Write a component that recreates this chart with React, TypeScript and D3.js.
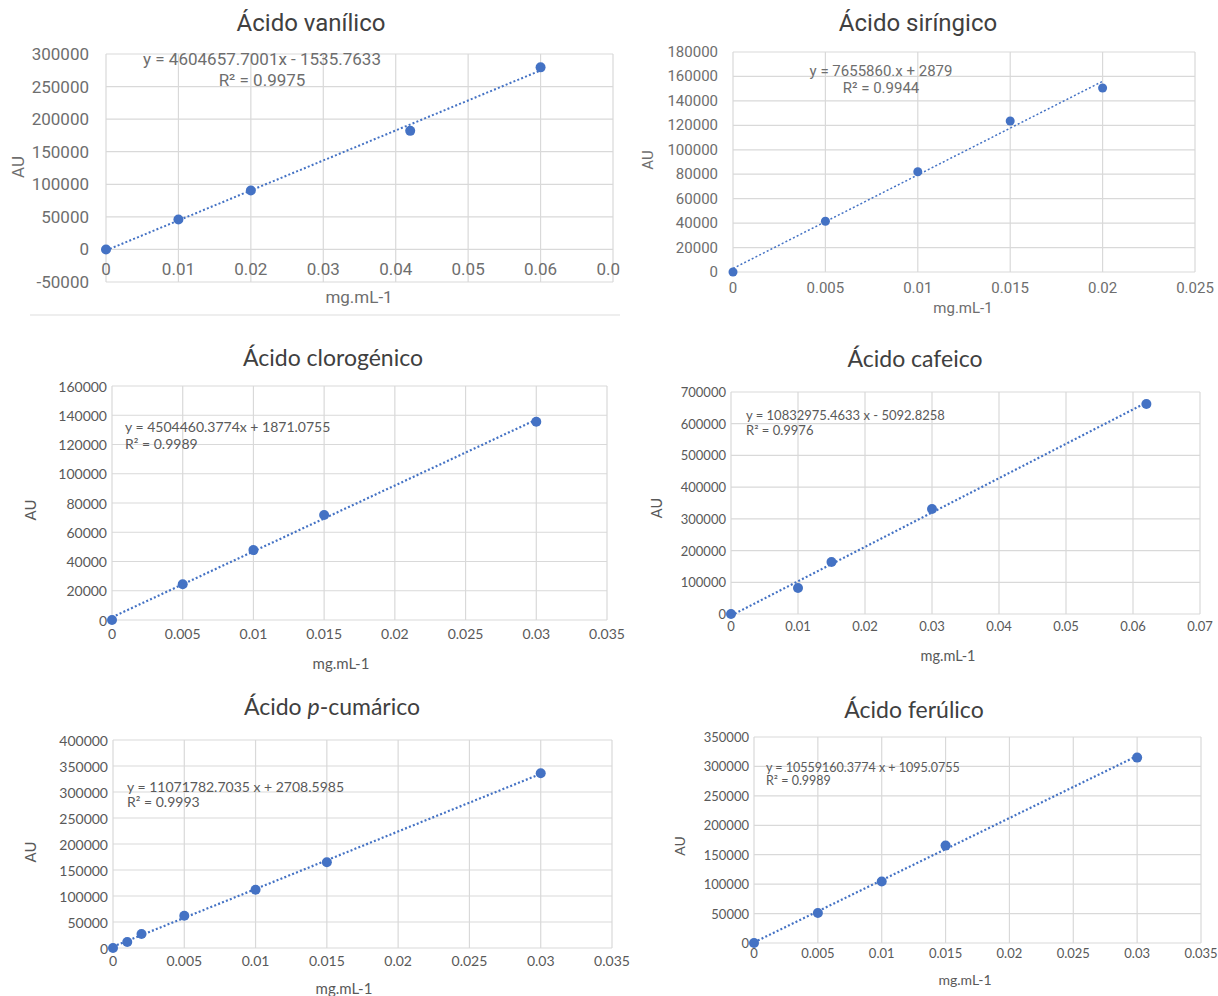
import React from "react";
import * as d3 from "d3";

// measured points (mg.mL-1 vs AU) and the fitted line [slope, intercept]
const vanilicoConc = [0, 0.01, 0.02, 0.042, 0.06];
const vanilicoAU = [0, 46000, 90500, 182000, 279500];
const vanilicoFit = [4604657.7001, -1535.7633];
const vanilicoXTicks = [0, 0.01, 0.02, 0.03, 0.04, 0.05, 0.06, 0.07];
const vanilicoYTicks = [-50000, 0, 50000, 100000, 150000, 200000, 250000, 300000];

const siringicoConc = [0, 0.005, 0.01, 0.015, 0.02];
const siringicoAU = [0, 41500, 82000, 123500, 150500];
const siringicoFit = [7655860, 2879];
const siringicoXTicks = [0, 0.005, 0.01, 0.015, 0.02, 0.025];
const siringicoYTicks = [0, 20000, 40000, 60000, 80000, 100000, 120000, 140000, 160000, 180000];

const clorogenicoConc = [0, 0.005, 0.01, 0.015, 0.03];
const clorogenicoAU = [0, 24500, 47800, 71800, 135500];
const clorogenicoFit = [4504460.3774, 1871.0755];
const clorogenicoXTicks = [0, 0.005, 0.01, 0.015, 0.02, 0.025, 0.03, 0.035];
const clorogenicoYTicks = [0, 20000, 40000, 60000, 80000, 100000, 120000, 140000, 160000];

const cafeicoConc = [0, 0.01, 0.015, 0.03, 0.062];
const cafeicoAU = [0, 82000, 164000, 331000, 662000];
const cafeicoFit = [10832975.4633, -5092.8258];
const cafeicoXTicks = [0, 0.01, 0.02, 0.03, 0.04, 0.05, 0.06, 0.07];
const cafeicoYTicks = [0, 100000, 200000, 300000, 400000, 500000, 600000, 700000];

const cumaricoConc = [0, 0.001, 0.002, 0.005, 0.01, 0.015, 0.03];
const cumaricoAU = [0, 11500, 27000, 62000, 112000, 165000, 336000];
const cumaricoFit = [11071782.7035, 2708.5985];
const cumaricoXTicks = [0, 0.005, 0.01, 0.015, 0.02, 0.025, 0.03, 0.035];
const cumaricoYTicks = [0, 50000, 100000, 150000, 200000, 250000, 300000, 350000, 400000];

const ferulicoConc = [0, 0.005, 0.01, 0.015, 0.03];
const ferulicoAU = [0, 51000, 104500, 165500, 315000];
const ferulicoFit = [10559160.3774, 1095.0755];
const ferulicoXTicks = [0, 0.005, 0.01, 0.015, 0.02, 0.025, 0.03, 0.035];
const ferulicoYTicks = [0, 50000, 100000, 150000, 200000, 250000, 300000, 350000];

const BLUE = "#4472C4";
const GRID = "#d9d9d9";
const TITLE = "#404040";

const panels = [
  {
    id: "van", title: ["Ácido vanílico"], conc: vanilicoConc, au: vanilicoAU, fit: vanilicoFit,
    xTicks: vanilicoXTicks, yTicks: vanilicoYTicks, eq: ["y = 4604657.7001x - 1535.7633", "R² = 0.9975"],
    box: [106, 54, 613, 282], clip: 620, font: "Roboto", tick: 17, gap: 17, titleSize: 24, color: "#6e6e6e",
    titlePos: [311, 23], xTickY: "zero", xLabelPos: [359, 297], auPos: [18, 167],
    eqPos: [262, 59, 80], eqAnchor: "middle", eqSize: 17, axisSize: 17, r: 5, lw: 2,
  },
  {
    id: "sir", title: ["Ácido siríngico"], conc: siringicoConc, au: siringicoAU, fit: siringicoFit,
    xTicks: siringicoXTicks, yTicks: siringicoYTicks, eq: ["y = 7655860.x + 2879", "R² = 0.9944"],
    box: [733, 52, 1195, 272], clip: null, font: "Roboto", tick: 15, gap: 15, titleSize: 24, color: "#6e6e6e",
    titlePos: [918, 23], xTickY: 288, xLabelPos: [963, 308], auPos: [648, 160],
    eqPos: [881, 71, 88], eqAnchor: "middle", eqSize: 15, axisSize: 15, r: 4.5, lw: 1.5,
  },
  {
    id: "clo", title: ["Ácido clorogénico"], conc: clorogenicoConc, au: clorogenicoAU, fit: clorogenicoFit,
    xTicks: clorogenicoXTicks, yTicks: clorogenicoYTicks, eq: ["y = 4504460.3774x + 1871.0755", "R² = 0.9989"],
    box: [112, 386, 607, 620], clip: null, font: "Lato", tick: 14, gap: 5, titleSize: 23, color: "#595959",
    titlePos: [333, 357], xTickY: 633, xLabelPos: [341, 663], auPos: [30, 510],
    eqPos: [125, 426, 443], eqAnchor: "start", eqSize: 14, axisSize: 15, r: 5, lw: 2.2,
  },
  {
    id: "caf", title: ["Ácido cafeico"], conc: cafeicoConc, au: cafeicoAU, fit: cafeicoFit,
    xTicks: cafeicoXTicks, yTicks: cafeicoYTicks, eq: ["y = 10832975.4633 x - 5092.8258", "R² = 0.9976"],
    box: [731, 392, 1200, 614], clip: null, font: "Lato", tick: 13, gap: 5, titleSize: 23, color: "#595959",
    titlePos: [915, 358], xTickY: 626, xLabelPos: [948, 655], auPos: [656, 508],
    eqPos: [746, 415, 430], eqAnchor: "start", eqSize: 13, axisSize: 14.5, r: 5, lw: 2.2,
  },
  {
    id: "cum", title: ["Ácido ", "p", "-cumárico"], conc: cumaricoConc, au: cumaricoAU, fit: cumaricoFit,
    xTicks: cumaricoXTicks, yTicks: cumaricoYTicks, eq: ["y = 11071782.7035 x + 2708.5985", "R² = 0.9993"],
    box: [113, 740, 612, 948], clip: null, font: "Lato", tick: 14, gap: 5, titleSize: 23, color: "#595959",
    titlePos: [332, 706], xTickY: 960, xLabelPos: [344, 988], auPos: [30, 852],
    eqPos: [127, 786, 801], eqAnchor: "start", eqSize: 14, axisSize: 15, r: 5, lw: 2.2,
  },
  {
    id: "fer", title: ["Ácido ferúlico"], conc: ferulicoConc, au: ferulicoAU, fit: ferulicoFit,
    xTicks: ferulicoXTicks, yTicks: ferulicoYTicks, eq: ["y = 10559160.3774 x + 1095.0755", "R² = 0.9989"],
    box: [754, 737, 1201, 943], clip: null, font: "Lato", tick: 13, gap: 5, titleSize: 23, color: "#595959",
    titlePos: [914, 709], xTickY: 953, xLabelPos: [965, 979], auPos: [679, 846],
    eqPos: [766, 767, 780], eqAnchor: "start", eqSize: 12.5, axisSize: 14, r: 5, lw: 2.2,
  },
];

const fmtX = (v: number) => String(+v.toFixed(4));

function Txt({ x, y, rot = 0, anchor = "middle", size, font, fill, children }: any) {
  return (
    <text
      transform={`translate(${x},${y}) rotate(${rot})`}
      textAnchor={anchor}
      dominantBaseline="central"
      fontFamily={font}
      fontSize={size}
      fill={fill}
    >
      {children}
    </text>
  );
}

function Panel({ p }: any) {
  const [l, t, r, b] = p.box;
  const x = d3.scaleLinear().domain([p.xTicks[0], p.xTicks[p.xTicks.length - 1]]).range([l, r]);
  const y = d3.scaleLinear().domain([p.yTicks[0], p.yTicks[p.yTicks.length - 1]]).range([b, t]);
  const xMax = d3.max(p.conc) as number;
  const trend = d3.line<number>()
    .x((d) => x(d))
    .y((d) => y(p.fit[0] * d + p.fit[1]))([0, xMax]);
  const tickY = p.xTickY === "zero" ? y(0) + 20 : p.xTickY;
  const f = p.font + ", sans-serif";

  return (
    <g clipPath={p.clip ? `url(#clip-${p.id})` : undefined}>
      {p.clip && (
        <defs>
          <clipPath id={`clip-${p.id}`}>
            <rect x={0} y={0} width={p.clip} height={996} />
          </clipPath>
        </defs>
      )}
      {p.yTicks.map((v: number) => (
        <line key={"gy" + v} x1={l} x2={r} y1={y(v)} y2={y(v)} stroke={GRID} strokeWidth={1.2} />
      ))}
      {p.xTicks.map((v: number) => (
        <line key={"gx" + v} x1={x(v)} x2={x(v)} y1={t} y2={b} stroke={GRID} strokeWidth={1.2} />
      ))}
      {p.yTicks.map((v: number) => (
        <Txt key={"ty" + v} x={l - p.gap} y={y(v)} anchor="end" size={p.tick} font={f} fill={p.color}>
          {String(v)}
        </Txt>
      ))}
      {p.xTicks.map((v: number) => (
        <Txt key={"tx" + v} x={x(v)} y={tickY} size={p.tick} font={f} fill={p.color}>
          {fmtX(v)}
        </Txt>
      ))}
      <path d={trend || ""} fill="none" stroke={BLUE} strokeWidth={p.lw} strokeDasharray="2 2.2" />
      {p.conc.map((c: number, i: number) => (
        <circle key={"pt" + i} cx={x(c)} cy={y(p.au[i])} r={p.r} fill={BLUE} />
      ))}
      <Txt x={p.titlePos[0]} y={p.titlePos[1]} size={p.titleSize} font={f} fill={TITLE}>
        {p.title.length > 1 ? (
          <>
            <tspan>{p.title[0]}</tspan>
            <tspan fontStyle="italic">{p.title[1]}</tspan>
            <tspan>{p.title[2]}</tspan>
          </>
        ) : (
          p.title[0]
        )}
      </Txt>
      <Txt x={p.eqPos[0]} y={p.eqPos[1]} anchor={p.eqAnchor} size={p.eqSize} font={f} fill={p.color}>
        {p.eq[0]}
      </Txt>
      <Txt x={p.eqPos[0]} y={p.eqPos[2]} anchor={p.eqAnchor} size={p.eqSize} font={f} fill={p.color}>
        {p.eq[1]}
      </Txt>
      <Txt x={p.xLabelPos[0]} y={p.xLabelPos[1]} size={p.axisSize} font={f} fill={p.color}>
        mg.mL-1
      </Txt>
      <Txt x={p.auPos[0]} y={p.auPos[1]} rot={-90} size={p.axisSize} font={f} fill={p.color}>
        AU
      </Txt>
    </g>
  );
}

export default function App() {
  return (
    <svg
      width={1218}
      height={996}
      viewBox="0 0 1218 996"
      style={{ position: "absolute", left: 0, top: 0, background: "#fff" }}
    >
      <rect width={1218} height={996} fill="#fff" />
      <line x1={30} x2={620} y1={315} y2={315} stroke="#eeeeee" strokeWidth={2} />
      {panels.map((p) => (
        <Panel key={p.id} p={p} />
      ))}
    </svg>
  );
}
